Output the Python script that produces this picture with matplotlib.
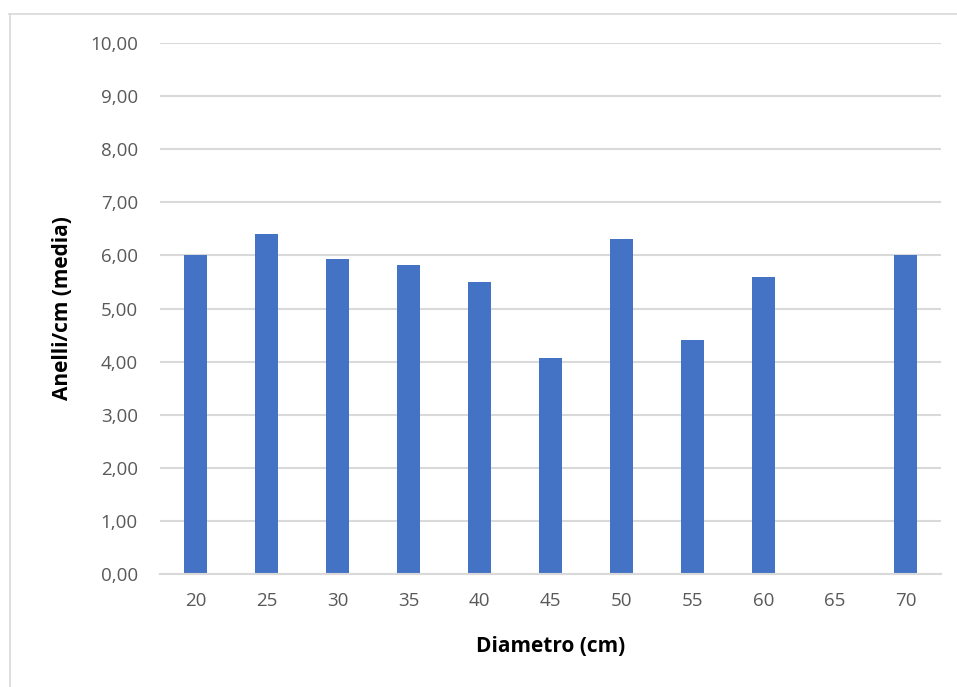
import matplotlib.pyplot as plt
from matplotlib.lines import Line2D

# diameter classes and mean rings per cm
diametri = ["20", "25", "30", "35", "40", "45", "50", "55", "60", "65", "70"]
anelli_media = [6.00, 6.40, 5.93, 5.82, 5.50, 4.06, 6.30, 4.40, 5.60, 0.0, 6.00]
y_ticks = [0, 1, 2, 3, 4, 5, 6, 7, 8, 9, 10]

W, H = 957, 687
fig = plt.figure(figsize=(W / 100, H / 100), dpi=100)
plt.rcParams['font.family'] = ['Open Sans', 'DejaVu Sans']

# plot area in pixels: left 160, right 941, top 43, bottom 574
ax = fig.add_axes([160 / W, 1 - 574 / H, (941 - 160) / W, (574 - 43) / H])

pos = list(range(len(diametri)))
ax.bar(pos, anelli_media, width=0.31, color="#4472C4", zorder=3)

ax.set_xlim(-0.5, len(diametri) - 0.5)
ax.set_ylim(0, 10)
ax.set_yticks(y_ticks)
ax.set_yticklabels([("%.2f" % t).replace(".", ",") for t in y_ticks])
ax.set_xticks(pos)
ax.set_xticklabels(diametri)

ax.grid(axis="y", color="#d9d9d9", linewidth=1.5, zorder=0)
for s in ["top", "right", "left"]:
    ax.spines[s].set_visible(False)
ax.spines["bottom"].set_color("#d9d9d9")
ax.spines["bottom"].set_linewidth(1.5)
ax.spines["bottom"].set_zorder(4)
ax.tick_params(axis="both", length=0, labelsize=13.5, labelcolor="#595959")
ax.tick_params(axis="y", pad=16)
ax.tick_params(axis="x", pad=13)

ax.set_xlabel("Diametro (cm)", fontsize=15, fontweight="bold", labelpad=19)
ax.set_ylabel("Anelli/cm (media)", fontsize=15, fontweight="bold", labelpad=12)

# chart frame (top and left edges)
fig.add_artist(Line2D([9 / W, 1], [1 - 14 / H, 1 - 14 / H], color="#d9d9d9", linewidth=1.2, transform=fig.transFigure))
fig.add_artist(Line2D([9.5 / W, 9.5 / W], [0, 1 - 14 / H], color="#d9d9d9", linewidth=1.2, transform=fig.transFigure))

fig.savefig("out.png", dpi=100)
